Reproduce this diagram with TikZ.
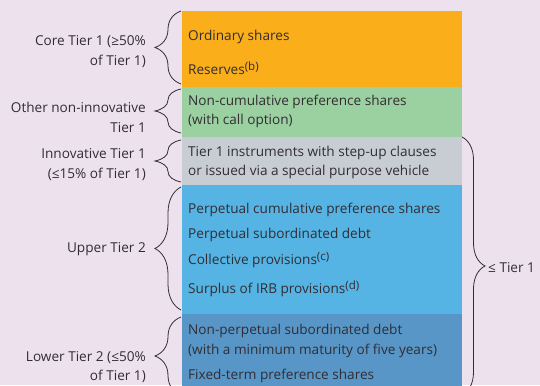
\documentclass[tikz,border=0pt]{standalone}
\usepackage{fontspec}
\setmainfont{Open Sans}
\usetikzlibrary{decorations.pathreplacing}
\definecolor{bgc}{RGB}{237,225,238}
\definecolor{orangec}{RGB}{249,174,26}
\definecolor{greenc}{RGB}{155,209,160}
\definecolor{greyc}{RGB}{199,205,210}
\definecolor{lbluec}{RGB}{85,180,228}
\definecolor{dbluec}{RGB}{88,150,199}
\definecolor{txtc}{RGB}{50,45,52}
\newcommand{\supnote}[1]{\raisebox{0.55ex}{\fontsize{11.5}{12}\selectfont(#1)}}
\tikzset{
  tierbox/.style={anchor=north west, inner sep=0pt, minimum width=280pt, draw=none},
  itemtxt/.style={anchor=west, inner sep=0pt, yshift=-1.5pt, text=txtc, font=\fontsize{13.6}{19.5}\selectfont, align=left},
  lbltxt/.style={anchor=east, inner sep=0pt, yshift=-1.5pt, text=txtc, font=\fontsize{13.6}{19.5}\selectfont, align=right},
  bracel/.style={decorate, decoration={brace, amplitude=26pt}, draw=txtc, line width=0.8pt},
  bracer/.style={decorate, decoration={brace, amplitude=23pt}, draw=txtc, line width=0.8pt},
}
\begin{document}
\begin{tikzpicture}[x=1pt,y=-1pt]
\useasboundingbox (0,0) rectangle (540,385);
\clip (0,0) rectangle (540,385);
\fill[bgc] (0,0) rectangle (540,385);
% boxes
\node[tierbox, fill=orangec, minimum height=76pt] (core) at (182,11) {};
\node[tierbox, fill=greenc, minimum height=50pt] (other) at (182,87) {};
\node[tierbox, fill=greyc, minimum height=48pt] (innov) at (182,137) {};
\node[tierbox, fill=lbluec, minimum height=129pt] (upper) at (182,185) {};
\node[tierbox, fill=dbluec, minimum height=90pt] (lower) at (182,314) {};
% item texts
\node[itemtxt] (t1) at (188,35) {Ordinary shares};
\node[itemtxt] (t2) at (188,67) {Reserves\supnote{b}};
\node[itemtxt] (t3) at (188,110) {Non-cumulative preference shares\\(with call option)};
\node[itemtxt] (t4) at (188,161) {Tier 1 instruments with step-up clauses\\or issued via a special purpose vehicle};
\node[itemtxt] (t5) at (188,208) {Perpetual cumulative preference shares};
\node[itemtxt] (t6) at (188,233) {Perpetual subordinated debt};
\node[itemtxt] (t7) at (188,259) {Collective provisions\supnote{c}};
\node[itemtxt] (t8) at (188,287) {Surplus of IRB provisions\supnote{d}};
\node[itemtxt] (t9) at (188,339.5) {Non-perpetual subordinated debt\\(with a minimum maturity of five years)};
\node[itemtxt] (t10) at (188,374) {Fixed-term preference shares};
% braces
\coordinate (b1s) at (181,84); \coordinate (b1e) at (181,11);
\coordinate (b2s) at (181,133); \coordinate (b2e) at (181,89);
\coordinate (b3s) at (181,182); \coordinate (b3e) at (181,140);
\coordinate (b4s) at (181,310); \coordinate (b4e) at (181,187);
\coordinate (b5s) at (181,395); \coordinate (b5e) at (181,317);
\coordinate (brs) at (462,137); \coordinate (bre) at (462,395);
\draw[bracel] (b1s) -- (b1e);
\draw[bracel] (b2s) -- (b2e);
\draw[bracel] (b3s) -- (b3e);
\draw[bracel] (b4s) -- (b4e);
\draw[bracel] (b5s) -- (b5e);
\draw[bracer] (brs) -- (bre);
% labels
\node[lbltxt] (l1) at (146,50) {Core Tier 1 (≥50\%\\of Tier 1)};
\node[lbltxt] (l2) at (146,116) {Other non-innovative\\Tier 1};
\node[lbltxt] (l3) at (146,163) {Innovative Tier 1\\(≤15\% of Tier 1)};
\node[lbltxt] (l4) at (146,248) {Upper Tier 2};
\node[lbltxt] (l5) at (146,365.5) {Lower Tier 2 (≤50\%\\of Tier 1)};
\node[itemtxt] (l6) at (488,266) {≤ Tier 1};
\end{tikzpicture}
\end{document}
